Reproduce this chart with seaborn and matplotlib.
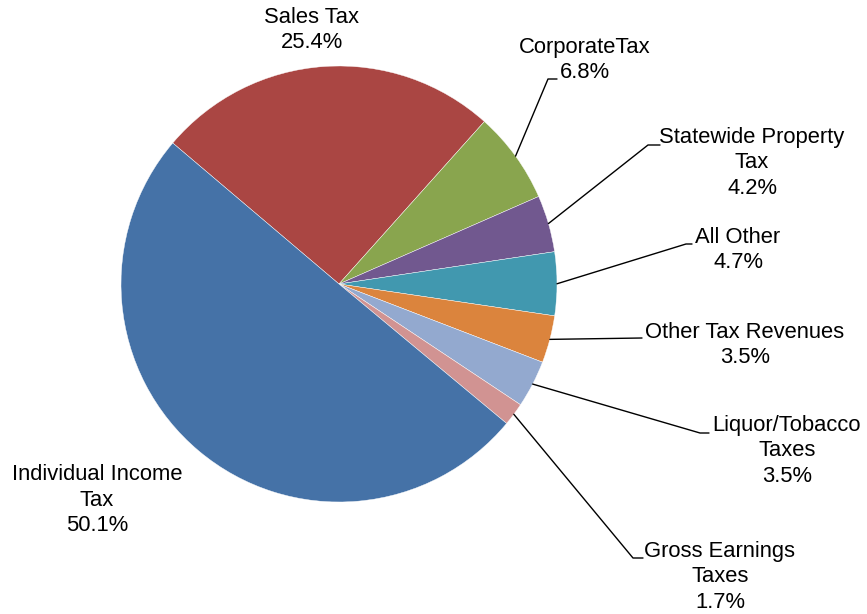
import numpy as np
import matplotlib
matplotlib.use("Agg")
import matplotlib.pyplot as plt
import seaborn as sns

# data, clockwise starting from Sales Tax
categories = ["Sales Tax", "CorporateTax", "Statewide Property\nTax", "All Other",
              "Other Tax Revenues", "Liquor/Tobacco\nTaxes", "Gross Earnings\nTaxes",
              "Individual Income\nTax"]
shares = [25.4, 6.8, 4.2, 4.7, 3.5, 3.5, 1.7, 50.1]
colors = ["#AA4643", "#89A54E", "#71588F", "#4198AF", "#DB843D", "#93A9CF",
          "#D19392", "#4572A7"]

# label layout in pixel coords (x, y from top), leader elbow points (None = no leader)
label_pos = [(312, 30), (585, 60), (752, 163), (738, 250), (745, 345),
             (787, 451), (720, 577), (97, 500)]
leader_pts = [None, [(548, 79), (557, 79)], [(648, 145), (660, 145)],
              [(686, 244), (692, 244)], [(642, 338)], [(700, 433), (709, 433)],
              [(633, 558), (643, 558)], None]

sns.set_theme(style="white")
plt.rcParams["font.family"] = ["Liberation Sans", "DejaVu Sans"]

W, H = 867, 614
fig = plt.figure(figsize=(W / 100, H / 100), dpi=100)
ax = fig.add_axes([0, 0, 1, 1])

cx, cy, r = 339, H - 284, 218
wedges, _ = ax.pie(shares, colors=colors, startangle=139.7, counterclock=False,
                   center=(cx, cy), radius=r, normalize=True,
                   wedgeprops=dict(edgecolor="white", linewidth=0.3))
ax.set_xlim(0, W)
ax.set_ylim(0, H)
ax.set_aspect("equal")
ax.axis("off")

for w, lab, val, pos, pts in zip(wedges, categories, shares, label_pos, leader_pts):
    ax.text(pos[0], H - pos[1], f"{lab}\n{val:.1f}%", ha="center", va="center",
            fontsize=15.8, linespacing=1.3, color="#000000")
    if pts is not None:
        mid = np.deg2rad((w.theta1 + w.theta2) / 2)
        xs = [cx + r * np.cos(mid)] + [p[0] for p in pts]
        ys = [cy + r * np.sin(mid)] + [H - p[1] for p in pts]
        ax.plot(xs, ys, color="black", lw=1.0)

fig.savefig("out.png", dpi=100)
